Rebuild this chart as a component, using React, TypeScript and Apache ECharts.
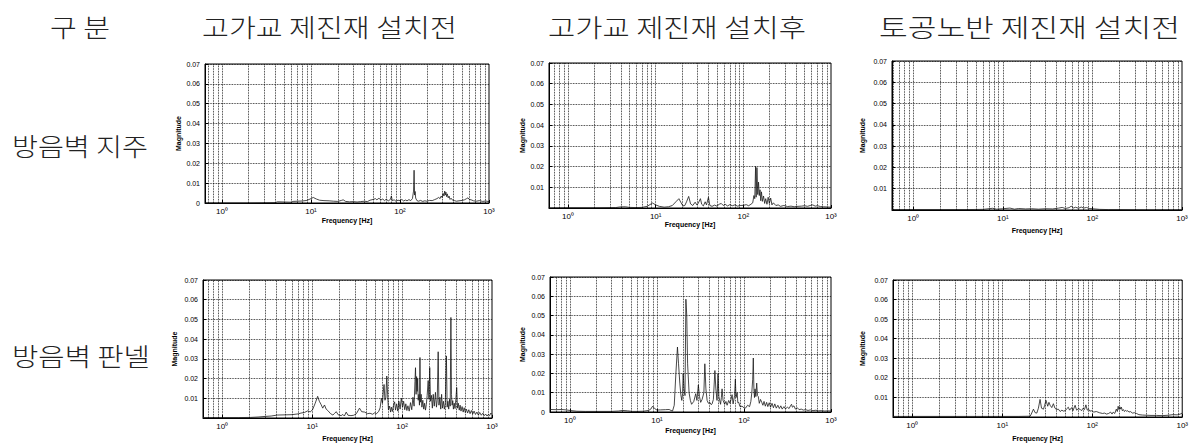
import React, { useEffect, useRef } from "react";
import * as echarts from "echarts";

// ---------- data ----------
const HEADERS_COL = ["고가교 제진재 설치전", "고가교 제진재 설치후", "토공노반 제진재 설치전"];
const HEADER_CORNER = "구 분";
const ROW_LABELS = ["방음벽 지주", "방음벽 판넬"];
const Y_TICKS = [0, 0.01, 0.02, 0.03, 0.04, 0.05, 0.06, 0.07];
const X_DECADES = [1, 10, 100, 1000];
const GRID_FREQS = [
  0.6, 0.7, 0.8, 0.9, 1, 2, 3, 4, 5, 6, 7, 8, 9, 10, 20, 30, 40, 50, 60, 70, 80, 90,
  100, 200, 300, 400, 500, 600, 700, 800, 900,
];

// 방음벽 지주 / 고가교 제진재 설치전
const P1: number[][] = [
  [0.65, 0], [1, 0], [2, 0], [3, 0.0001], [4, 0.0002], [4.2, 0.0006], [5, 0.0005], [6, 0.0004], [6.3, 0.0008],
  [7, 0.0009], [8, 0.001], [9, 0.0013], [10, 0.0022], [10.6, 0.0028], [11.5, 0.002], [12.5, 0.0014], [14, 0.0012],
  [16, 0.0011], [18, 0.0009], [20, 0.0008], [22, 0.0013], [23, 0.0016], [24.5, 0.0008], [27, 0.0006], [30, 0.0007],
  [33, 0.0005], [36, 0.0007], [40, 0.0009], [43, 0.0007], [46, 0.0014], [50, 0.0018], [53, 0.0022], [55, 0.0016],
  [58, 0.0024], [61, 0.0015], [64, 0.002], [67, 0.0012], [70, 0.0019], [74, 0.0011], [78, 0.0018], [80, 0.0035],
  [82, 0.0012], [86, 0.0016], [90, 0.0009], [95, 0.0014], [100, 0.0012], [105, 0.0018], [110, 0.001], [115, 0.0015],
  [120, 0.0011], [126, 0.0017], [132, 0.0012], [138, 0.0022], [142, 0.006], [144, 0.0165], [146, 0.004], [148, 0.0058],
  [150, 0.0025], [155, 0.0012], [162, 0.0009], [170, 0.0013], [180, 0.0008], [190, 0.0011], [200, 0.0009], [215, 0.0013],
  [230, 0.0012], [245, 0.0017], [260, 0.0022], [272, 0.0028], [282, 0.0022], [290, 0.0035], [298, 0.0027], [305, 0.0048],
  [312, 0.0035], [318, 0.006], [323, 0.004], [328, 0.0055], [334, 0.0032], [340, 0.0046], [348, 0.0026], [356, 0.0035],
  [365, 0.0018], [375, 0.0024], [390, 0.0014], [410, 0.0012], [430, 0.0009], [460, 0.0011], [500, 0.0013], [530, 0.0016],
  [560, 0.0022], [580, 0.0026], [600, 0.0018], [630, 0.0016], [670, 0.0011], [720, 0.0009], [780, 0.0012], [850, 0.0008],
  [920, 0.001], [1000, 0.0007],
];

// 방음벽 지주 / 고가교 제진재 설치후
const P2: number[][] = [
  [0.6, 0], [1, 0.0001], [2, 0.0001], [3.5, 0.0002], [3.9, 0.0005], [4.5, 0.0006], [5, 0.0003], [6, 0.0002], [7, 0.0003],
  [8, 0.0008], [9.2, 0.0024], [10, 0.0015], [11, 0.0008], [12.5, 0.0004], [14, 0.0006], [15.5, 0.0012], [17, 0.003],
  [18.4, 0.0045], [19.5, 0.0025], [20.5, 0.001], [21.5, 0.0012], [22.5, 0.003], [23.8, 0.0056], [25, 0.002], [26.5, 0.0012],
  [28.2, 0.0028], [29.5, 0.0015], [30.5, 0.0022], [32.4, 0.0045], [33.5, 0.0018], [35, 0.001], [36.7, 0.003], [38, 0.0015],
  [40, 0.0052], [41.5, 0.0012], [44, 0.0008], [47, 0.0014], [50, 0.0009], [53, 0.0018], [56, 0.0022], [59, 0.0012],
  [62, 0.0018], [66, 0.001], [70, 0.0016], [75, 0.0011], [80, 0.0015], [86, 0.0009], [92, 0.0012], [100, 0.0013],
  [108, 0.0016], [115, 0.0011], [122, 0.0018], [128, 0.0025], [132, 0.006], [135, 0.0045], [138, 0.0202], [140, 0.0052],
  [143, 0.0195], [146, 0.0065], [149, 0.0125], [152, 0.006], [155, 0.0088], [158, 0.0035], [161, 0.0078], [165, 0.0032],
  [170, 0.0058], [175, 0.0022], [180, 0.0045], [186, 0.0018], [192, 0.0052], [198, 0.0022], [205, 0.0048], [212, 0.0015],
  [220, 0.0025], [235, 0.0012], [250, 0.0015], [265, 0.0008], [290, 0.0012], [320, 0.0007], [350, 0.0009], [380, 0.0006],
  [420, 0.0008], [460, 0.0009], [500, 0.0011], [540, 0.0008], [580, 0.0012], [620, 0.0015], [660, 0.0009], [700, 0.0011],
  [760, 0.0007], [820, 0.0006], [900, 0.0005], [1000, 0.0004],
];

// 방음벽 지주 / 토공노반 제진재 설치전
const P3: number[][] = [
  [0.58, 0.0002], [1, 0.0002], [2, 0.0002], [4, 0.0002], [6, 0.0003], [7.7, 0.0008], [8.5, 0.0004], [10, 0.0006],
  [12, 0.0009], [13.5, 0.0004], [15, 0.0007], [18, 0.0005], [21, 0.0006], [25, 0.0004], [30, 0.0006], [36, 0.0005],
  [42, 0.0009], [46, 0.0012], [50, 0.0007], [55, 0.0011], [58, 0.0018], [61, 0.0009], [65, 0.0013], [70, 0.0008],
  [75, 0.0014], [80, 0.0009], [86, 0.0012], [92, 0.0007], [100, 0.0006], [120, 0.0003], [150, 0.0002], [200, 0.0002],
  [400, 0.0001], [1000, 0.0001],
];

// 방음벽 판넬 / 고가교 제진재 설치전
const P4: number[][] = [
  [0.61, 0.0002], [1, 0.0002], [1.5, 0.0002], [2.07, 0.0003], [2.5, 0.0005], [3, 0.0008], [3.5, 0.001], [4.1, 0.0015],
  [5, 0.0016], [6, 0.0017], [7, 0.0021], [7.5, 0.0025], [8.2, 0.0028], [8.9, 0.0036], [9.5, 0.0031], [10.1, 0.0042],
  [10.8, 0.0075], [11.5, 0.011], [12, 0.0085], [12.5, 0.007], [13.1, 0.005], [13.7, 0.0066], [14.3, 0.0045], [14.9, 0.0038],
  [16, 0.0022], [17, 0.0015], [17.8, 0.0024], [18.5, 0.0032], [19.5, 0.0016], [21, 0.0012], [21.9, 0.0018], [22.8, 0.001],
  [23.9, 0.003], [25, 0.0014], [27, 0.0012], [29, 0.0014], [31, 0.0022], [33.6, 0.005], [35.5, 0.0032], [38.4, 0.003],
  [41, 0.0022], [44, 0.0024], [47, 0.0019], [49.5, 0.0026], [52, 0.0022], [55, 0.0034], [57, 0.0052], [58.8, 0.01],
  [60.5, 0.0075], [62, 0.0142], [63, 0.017], [64.5, 0.009], [66, 0.0105], [67.5, 0.0213], [69, 0.012], [70.5, 0.0042],
  [72.7, 0.006], [74.5, 0.003], [76, 0.0055], [78, 0.0033], [80, 0.0062], [82.6, 0.0082], [84.5, 0.004], [87, 0.0072],
  [89.5, 0.0035], [92, 0.0085], [95, 0.0045], [98, 0.0101], [101, 0.0055], [104, 0.0085], [107, 0.0042], [110, 0.0072],
  [113, 0.0038], [116, 0.0062], [120, 0.0035], [124, 0.0078], [128, 0.0042], [132, 0.0105], [136, 0.006], [139, 0.0185],
  [141, 0.0255], [143, 0.012], [145, 0.021], [147, 0.0135], [149, 0.02], [151, 0.009], [154, 0.012], [156, 0.0065],
  [158, 0.0307], [160, 0.008], [163, 0.012], [166, 0.0055], [170, 0.009], [174, 0.0045], [178, 0.0075], [182, 0.004],
  [186, 0.0068], [190, 0.0115], [195, 0.019], [199, 0.0095], [203, 0.0256], [207, 0.0085], [212, 0.0115], [217, 0.005],
  [222, 0.012], [228, 0.006], [235, 0.013], [241, 0.0055], [246, 0.009], [252, 0.0336], [257, 0.0065], [263, 0.0105],
  [269, 0.0045], [275, 0.012], [281, 0.005], [288, 0.0085], [295, 0.0045], [302, 0.0072], [311, 0.0315], [317, 0.0055],
  [323, 0.0085], [330, 0.0045], [337, 0.0095], [343, 0.006], [349, 0.051], [354, 0.012], [360, 0.0065], [366, 0.0088],
  [372, 0.0045], [380, 0.0075], [388, 0.0048], [396, 0.0095], [405, 0.0154], [413, 0.005], [422, 0.0075], [432, 0.004],
  [442, 0.0065], [452, 0.0035], [465, 0.0058], [478, 0.003], [490, 0.0052], [505, 0.0028], [520, 0.0045], [535, 0.0025],
  [552, 0.0042], [570, 0.0022], [590, 0.0038], [610, 0.002], [632, 0.0035], [655, 0.0018], [680, 0.003], [705, 0.0015],
  [730, 0.0028], [760, 0.0014], [790, 0.0024], [820, 0.0012], [850, 0.002], [880, 0.001], [910, 0.0018], [940, 0.0012],
  [970, 0.0025], [1000, 0.0018],
];

// 방음벽 판넬 / 고가교 제진재 설치후
const P5: number[][] = [
  [0.59, 0.0013], [0.7, 0.0012], [0.8, 0.0013], [0.9, 0.0011], [1, 0.0008], [1.2, 0.0004], [1.5, 0.0003], [2, 0.0003],
  [3, 0.0003], [3.6, 0.0005], [4.06, 0.0008], [4.6, 0.0006], [5.2, 0.0003], [6, 0.0003], [7, 0.0004], [8, 0.0008],
  [8.5, 0.0015], [8.9, 0.003], [9.4, 0.0018], [10, 0.001], [11, 0.0011], [12.5, 0.0012], [13.8, 0.0013], [14.5, 0.0008],
  [15.1, 0.0005], [15.8, 0.0035], [16.5, 0.02], [17.2, 0.0337], [17.7, 0.025], [18.3, 0.015], [18.8, 0.009], [19.3, 0.006],
  [19.7, 0.0095], [20, 0.02], [20.5, 0.012], [21, 0.0085], [21.5, 0.0585], [22, 0.05], [22.5, 0.025], [23.4, 0.01],
  [24.2, 0.006], [25, 0.004], [26.5, 0.0055], [27.9, 0.0095], [28.8, 0.006], [29.9, 0.014], [30.8, 0.008], [31.8, 0.005],
  [33, 0.0065], [34.6, 0.01], [35.5, 0.025], [36.5, 0.012], [37.7, 0.006], [39, 0.0045], [40.5, 0.005], [42, 0.0038],
  [43, 0.0042], [44.5, 0.0065], [46.3, 0.0215], [47.5, 0.012], [49, 0.006], [50.3, 0.02], [51.5, 0.008], [53.8, 0.004],
  [55, 0.0075], [56, 0.012], [57.5, 0.006], [60, 0.004], [62, 0.0055], [64, 0.0035], [66.7, 0.006], [69, 0.0045],
  [71, 0.0065], [73, 0.009], [75, 0.0042], [76, 0.004], [78, 0.0085], [79.6, 0.017], [81, 0.0075], [83.5, 0.01],
  [85, 0.0048], [87, 0.005], [90, 0.0028], [95, 0.003], [100, 0.0022], [104, 0.002], [110, 0.0035], [116, 0.0028],
  [120, 0.0055], [123, 0.01], [126, 0.017], [128, 0.028], [130, 0.012], [132, 0.0075], [134, 0.012], [137, 0.008],
  [140, 0.015], [143, 0.0085], [146, 0.008], [150, 0.0045], [155, 0.0065], [160, 0.005], [165, 0.0035], [170, 0.0055],
  [176, 0.003], [182, 0.005], [188, 0.0028], [195, 0.0048], [202, 0.0025], [210, 0.0045], [218, 0.0022], [226, 0.0042],
  [235, 0.002], [245, 0.0035], [255, 0.0018], [265, 0.0032], [275, 0.0015], [288, 0.0028], [300, 0.0016], [315, 0.0025],
  [330, 0.0018], [345, 0.0035], [352, 0.004], [360, 0.0025], [375, 0.0032], [390, 0.0015], [410, 0.0022], [430, 0.0012],
  [455, 0.0015], [480, 0.001], [510, 0.0012], [545, 0.0008], [580, 0.0011], [620, 0.0007], [670, 0.0009], [720, 0.0006],
  [780, 0.0007], [850, 0.0005], [920, 0.0006], [1000, 0.0005],
];

// 방음벽 판넬 / 토공노반 제진재 설치전
const P6: number[][] = [
  [0.61, 0.0003], [1, 0.0003], [2, 0.0003], [5, 0.0003], [10, 0.0003], [15, 0.0003], [20.4, 0.0004], [21, 0.0015],
  [22.2, 0.004], [23.2, 0.0022], [24.2, 0.002], [25.2, 0.0045], [26.3, 0.009], [27.3, 0.0045], [28.7, 0.004], [29.6, 0.006],
  [30.6, 0.0085], [32, 0.0055], [33, 0.0075], [34, 0.006], [35.5, 0.0048], [37, 0.0068], [38.5, 0.0045], [40, 0.0038],
  [42, 0.004], [44, 0.0028], [46, 0.0035], [47.6, 0.003], [50, 0.0032], [52, 0.0042], [54.2, 0.005], [56, 0.0035],
  [59, 0.0048], [61, 0.0032], [64.5, 0.006], [67, 0.0035], [70, 0.0042], [73, 0.004], [76, 0.0032], [79, 0.0045],
  [82, 0.0038], [85, 0.0062], [88, 0.0035], [91, 0.004], [94, 0.003], [98, 0.0032], [104, 0.0025], [111, 0.0028],
  [120, 0.0022], [130, 0.0018], [137, 0.002], [144, 0.0015], [152, 0.0018], [160, 0.0025], [166, 0.0015], [171, 0.0025],
  [178, 0.0018], [185, 0.004], [190, 0.0028], [194, 0.0055], [198, 0.0038], [203, 0.0052], [207, 0.004], [211, 0.005],
  [216, 0.0032], [222, 0.0038], [228, 0.0028], [234, 0.0034], [240, 0.003], [248, 0.0032], [256, 0.0025], [265, 0.0028],
  [280, 0.002], [295, 0.0022], [310, 0.0018], [330, 0.0012], [360, 0.001], [400, 0.0009], [450, 0.0008], [520, 0.0008],
  [600, 0.0007], [700, 0.0009], [790, 0.0012], [880, 0.0011], [950, 0.0015], [1000, 0.002],
];

// ---------- layout ----------
type Panel = {
  data: number[][];
  left: number; top: number; right: number; bottom: number;
  xMin: number; showZero: boolean; yNameGap: number; xNameGap: number;
};
const PANELS: Panel[] = [
  { data: P1, left: 205, top: 64, right: 489, bottom: 203, xMin: 0.645, showZero: true, yNameGap: 20, xNameGap: 14 },
  { data: P2, left: 549, top: 63, right: 831, bottom: 208, xMin: 0.607, showZero: false, yNameGap: 23, xNameGap: 11 },
  { data: P3, left: 892, top: 61, right: 1182, bottom: 210, xMin: 0.58, showZero: false, yNameGap: 26, xNameGap: 17 },
  { data: P4, left: 203, top: 280, right: 492, bottom: 418, xMin: 0.61, showZero: false, yNameGap: 25, xNameGap: 17 },
  { data: P5, left: 550, top: 277, right: 831, bottom: 412, xMin: 0.59, showZero: true, yNameGap: 24, xNameGap: 15 },
  { data: P6, left: 893, top: 280, right: 1183, bottom: 417, xMin: 0.61, showZero: false, yNameGap: 27, xNameGap: 18 },
];

// Korean label boxes: [left, right, centerY]
const CORNER_BOX = [50, 110, 26];
const HEADER_BOXES = [[202, 457, 26], [548, 806, 26], [879, 1180, 26]];
const ROW_BOXES = [[12, 148, 145], [12, 150, 355]];

const W = 1191;
const H = 443;
const SUP = ["⁰", "¹", "²", "³"];
const AX_FONT = "Liberation Sans";
const KR_FONT = "Noto Sans CJK KR";
const KR_SIZE = 25;
const KR_WEIGHT = 300;

function decadeLabel(v: number): string {
  const e = Math.log10(v);
  const r = Math.round(e);
  if (Math.abs(e - r) < 1e-6 && X_DECADES.indexOf(Math.pow(10, r)) >= 0) return "10" + SUP[r];
  return "";
}

let measureCtx: CanvasRenderingContext2D | null = null;
function measure(text: string): number {
  if (!measureCtx) measureCtx = document.createElement("canvas").getContext("2d");
  if (!measureCtx) return text.length * KR_SIZE;
  measureCtx.font = `${KR_WEIGHT} ${KR_SIZE}px "${KR_FONT}"`;
  return measureCtx.measureText(text).width;
}

function buildOption() {
  const grids: any[] = [];
  const xAxes: any[] = [];
  const yAxes: any[] = [];
  const series: any[] = [];
  PANELS.forEach((p, i) => {
    grids.push({
      left: p.left, top: p.top, width: p.right - p.left, height: p.bottom - p.top,
      show: true, borderColor: "#000", borderWidth: 1, containLabel: false,
    });
    xAxes.push({
      type: "log", logBase: 10, gridIndex: i, min: p.xMin, max: 1000,
      name: "Frequency [Hz]", nameLocation: "middle", nameGap: p.xNameGap,
      nameTextStyle: { fontFamily: AX_FONT, fontSize: 7, fontWeight: "bold", color: "#000" },
      axisLine: { show: true, lineStyle: { color: "#000", width: 1 } },
      axisTick: { show: true, inside: true, length: 3, lineStyle: { color: "#000" } },
      axisLabel: { formatter: decadeLabel, fontFamily: AX_FONT, fontSize: 8, color: "#000", margin: 4, showMinLabel: false },
      splitLine: { show: false },
    });
    yAxes.push({
      type: "value", gridIndex: i, min: Y_TICKS[0], max: Y_TICKS[Y_TICKS.length - 1], interval: 0.01,
      name: "Magnitude", nameLocation: "middle", nameGap: p.yNameGap, nameRotate: 90,
      nameTextStyle: { fontFamily: AX_FONT, fontSize: 7, fontWeight: "bold", color: "#000" },
      axisLine: { show: true, lineStyle: { color: "#000", width: 1 } },
      axisTick: { show: true, inside: true, length: 3, lineStyle: { color: "#000" } },
      axisLabel: {
        fontFamily: AX_FONT, fontSize: 7, color: "#000", margin: 5,
        formatter: (v: number) => (Math.abs(v) < 1e-9 ? (p.showZero ? "0" : "") : v.toFixed(2)),
      },
      splitLine: { show: true, lineStyle: { color: "#000", type: "dotted", width: 0.8 } },
    });
    series.push({
      type: "line", xAxisIndex: i, yAxisIndex: i, data: p.data, showSymbol: false, symbol: "none",
      lineStyle: { color: "#1a1a1a", width: 0.8 }, silent: true,
      markLine: {
        silent: true, symbol: ["none", "none"], label: { show: false },
        lineStyle: { color: "#000", type: "dotted", width: 0.8 },
        emphasis: { disabled: true },
        data: GRID_FREQS.filter((f) => f > p.xMin * 1.03 && f < 1000).map((f) => ({ xAxis: f })),
      },
    });
  });

  const txt = (text: string, box: number[]) => {
    const w = measure(text);
    const sx = w > 0 ? (box[1] - box[0]) / w : 1;
    return {
      type: "text", x: box[0], y: box[2], scaleX: sx, silent: true,
      style: { text, fill: "#222", fontFamily: KR_FONT, fontSize: KR_SIZE, fontWeight: KR_WEIGHT, align: "left", verticalAlign: "middle" },
    };
  };
  const graphic: any[] = [];
  graphic.push(txt(HEADER_CORNER, CORNER_BOX));
  HEADERS_COL.forEach((h, ci) => graphic.push(txt(h, HEADER_BOXES[ci])));
  ROW_LABELS.forEach((r, ri) => graphic.push(txt(r, ROW_BOXES[ri])));

  return {
    animation: false,
    backgroundColor: "#fff",
    grid: grids,
    xAxis: xAxes,
    yAxis: yAxes,
    series,
    graphic,
  };
}

export default function App() {
  const ref = useRef<HTMLDivElement>(null);
  useEffect(() => {
    if (!ref.current) return;
    const chart = echarts.init(ref.current, undefined, { renderer: "svg", width: W, height: H });
    chart.setOption(buildOption() as any);
    return () => chart.dispose();
  }, []);
  return <div ref={ref} style={{ position: "absolute", left: 0, top: 0, width: W, height: H, background: "#fff" }} />;
}
